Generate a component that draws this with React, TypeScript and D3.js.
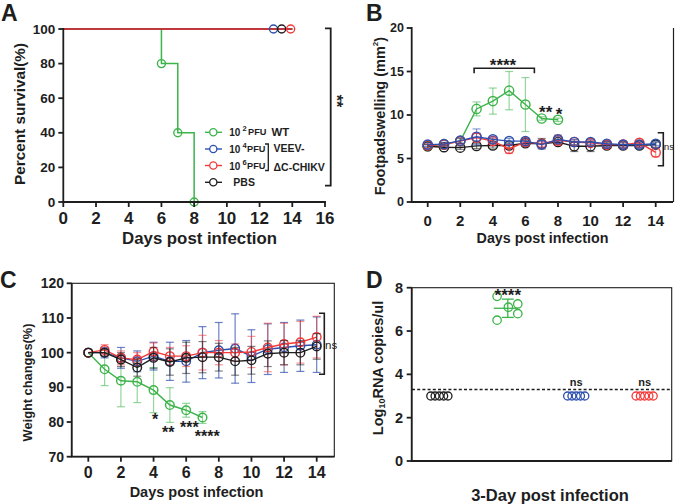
import React from 'react';
import * as d3 from 'd3';

const F = "'Liberation Sans', Arial, Helvetica, sans-serif";
const GREEN = '#3cb44a';
const BLUE = '#2c4fae';
const RED = '#f23a3a';
const BLACK = '#1e1e1e';

// ---------- Panel A: survival ----------
const survGreenDays = [0, 6, 7, 8];
const survGreenVals = [100, 80, 40, 0];
const survFlatDays = [0, 14];
const survFlatVals = [100, 100];
const censorBlueDay = 12.85;
const censorBlackDay = 13.35;
const censorRedDay = 13.9;
const ticksAX = [0, 2, 4, 6, 8, 10, 12, 14, 16];
const ticksAY = [0, 20, 40, 60, 80, 100];

// ---------- Panel B: footpad swelling ----------
const daysB = [0, 1, 2, 3, 4, 5, 6, 7, 8, 9, 10, 11, 12, 13, 14];
const daysBGreen = [0, 1, 2, 3, 4, 5, 6, 7, 8];
const footGreen = [6.4, 6.65, 7.0, 10.7, 11.6, 12.8, 11.2, 9.6, 9.45];
const footGreenErr = [0.2, 0.2, 0.3, 0.8, 1.5, 2.2, 3.1, 0.2, 0.2];
const footBlue = [6.6, 6.65, 7.05, 7.5, 7.2, 7.0, 7.0, 6.6, 7.2, 6.9, 6.9, 6.7, 6.6, 6.6, 6.7];
const footBlueErr = [0.2, 0.2, 0.3, 0.9, 0.3, 0.3, 0.3, 0.4, 0.3, 0.3, 0.3, 0.3, 0.3, 0.3, 0.2];
const footRed = [6.5, 6.6, 7.0, 7.4, 7.0, 6.1, 6.9, 6.7, 7.1, 6.9, 6.8, 6.6, 6.6, 6.8, 5.7];
const footRedErr = [0.2, 0.2, 0.3, 0.5, 0.3, 0.5, 0.3, 0.3, 0.6, 0.3, 0.3, 0.3, 0.3, 0.3, 0.5];
const footBlack = [6.4, 6.3, 6.25, 6.45, 6.5, 6.5, 6.75, 6.7, 6.9, 6.4, 6.4, 6.5, 6.5, 6.5, 6.6];
const footBlackErr = [0.2, 0.2, 0.2, 0.3, 0.3, 0.3, 0.3, 0.6, 0.3, 0.6, 0.6, 0.3, 0.3, 0.3, 0.3];
const ticksBX = [0, 2, 4, 6, 8, 10, 12, 14];
const ticksBY = [0, 5, 10, 15, 20];

// ---------- Panel C: weight ----------
const daysCGreen = [0, 1, 2, 3, 4, 5, 6, 7];
const weightGreen = [100, 95.2, 91.9, 91.6, 89.2, 84.9, 83.4, 81.3];
const weightGreenErr = [0, 4.7, 7.5, 6, 6.5, 5, 2, 1.7];
const weightBlue = [100, 100, 98.5, 97.5, 99, 97.5, 97.5, 100, 100.7, 101.2, 99, 101, 101.5, 102, 102.3];
const weightBlueErr = [0, 1.5, 3, 3, 4, 5.5, 6, 7.5, 8, 10, 7.6, 7.3, 7.2, 7.4, 8];
const weightRed = [100, 100.8, 98.5, 98, 100.3, 99, 99, 100, 100, 100, 100.2, 101.5, 102.5, 103, 104.5];
const weightRedErr = [0, 1.5, 2, 2, 2.5, 2.5, 3, 5, 3.5, 2.5, 4.5, 7, 6, 6, 6];
const weightBlack = [100, 100, 98, 95.7, 98.5, 97.3, 98.5, 98.7, 98.7, 97.5, 97.8, 99.7, 100, 100, 101.8];
const weightBlackErr = [0, 1, 2, 2.5, 3, 3.8, 4.5, 4.5, 4, 4, 4, 3.7, 3.5, 3.5, 3.7];
const ticksCY = [70, 80, 90, 100, 110, 120];

// ---------- Panel D: RNA ----------
const groupsD = ['PBS', 'WT', 'VEEV4', 'VEEV6'];
const rnaPBS = [3, 3, 3, 3, 3];
const rnaWT = [7.6, 7.1, 7.25, 6.8, 6.5];
const rnaV4 = [3, 3, 3, 3, 3];
const rnaV6 = [3, 3, 3, 3, 3];
const detectionLimit = 3.3;
const ticksDY = [0, 2, 4, 6, 8];

const wtJitter = [-10.7, 0.6, 10, 10, -10.7];
const flatJitter = [-8.6, -4.3, 0, 4.3, 8.6];

function Series({ xs, ys, errs, x, y, color, r = 4.3, errOpacity = 0.55 }: any) {
  const line = d3.line<number>().x((_, i) => x(xs[i])).y((v) => y(v));
  return (
    <g>
      {errs && xs.map((d: number, i: number) => errs[i] > 0 ? (
        <g key={'e' + i} stroke={color} strokeOpacity={errOpacity} strokeWidth={1.2}>
          <line x1={x(d)} x2={x(d)} y1={y(ys[i] - errs[i])} y2={y(ys[i] + errs[i])} />
          <line x1={x(d) - 4} x2={x(d) + 4} y1={y(ys[i] + errs[i])} y2={y(ys[i] + errs[i])} />
          <line x1={x(d) - 4} x2={x(d) + 4} y1={y(ys[i] - errs[i])} y2={y(ys[i] - errs[i])} />
        </g>
      ) : null)}
      <path d={line(ys) || ''} fill="none" stroke={color} strokeWidth={1.4} />
      {xs.map((d: number, i: number) => (
        <circle key={i} cx={x(d)} cy={y(ys[i])} r={r} fill="none" stroke={color} strokeWidth={1.4} />
      ))}
    </g>
  );
}

function Stars({ x, y, fs, text }: any) {
  return (
    <text x={x} y={y + 0.57 * fs} fontSize={fs} fontWeight="bold" textAnchor="middle" fontFamily={F} fill={BLACK}>{text}</text>
  );
}

function YLabel({ cx, cy, fs, children }: any) {
  return (
    <text transform={`translate(${cx},${cy}) rotate(-90)`} textAnchor="middle" dominantBaseline="central"
      fontSize={fs} fontWeight="bold" fontFamily={F} fill={BLACK}>{children}</text>
  );
}

export default function App() {
  // Panel A scales
  const xA = d3.scaleLinear().domain([0, 16]).range([63.3, 325]);
  const yA = d3.scaleLinear().domain([0, 100]).range([202, 29]);
  const stepLine = d3.line<number>().curve(d3.curveStepAfter);
  const greenSurv = stepLine(survGreenDays.map((d, i) => [xA(d), yA(survGreenVals[i])]) as any) || '';
  const flatSurv = stepLine(survFlatDays.map((d, i) => [xA(d), yA(survFlatVals[i])]) as any) || '';

  // Panel B scales
  const xB = d3.scaleLinear().domain([0, 14]).range([427.7, 655.7]);
  const yB = d3.scaleLinear().domain([0, 20]).range([202, 28]);

  // Panel C scales
  const xC = d3.scaleLinear().domain([0, 14]).range([88.3, 316.7]);
  const yC = d3.scaleLinear().domain([70, 120]).range([456.7, 283.3]);

  // Panel D scales
  const xD = d3.scalePoint<string>().domain(groupsD).range([412, 672]).padding(0.4);
  const yD = d3.scaleLinear().domain([0, 8]).range([461, 287.7]);
  const wtMean = d3.mean(rnaWT) as number;
  const wtSd = d3.deviation(rnaWT) as number;

  const axisW = 1.8;
  const legendRows = [132.3, 149, 165.5, 182.3];
  const legendColors = [GREEN, BLUE, RED, BLACK];

  return (
    <svg width={675} height={504} style={{ position: 'absolute', left: 0, top: 0, background: '#fff' }} fontFamily={F}>
      <rect width={675} height={504} fill="#fff" />

      {/* ================= Panel A ================= */}
      <text x={1} y={21} fontSize={23} fontWeight="bold" fill={BLACK}>A</text>
      <path d={greenSurv} fill="none" stroke={GREEN} strokeWidth={1.5} />
      <path d={flatSurv} fill="none" stroke={BLUE} strokeWidth={1.5} />
      <path d={flatSurv} fill="none" stroke={BLACK} strokeWidth={1.5} />
      <path d={flatSurv} fill="none" stroke={RED} strokeWidth={1.5} />
      {survGreenDays.slice(1).map((d, i) => (
        <circle key={i} cx={xA(d)} cy={yA(survGreenVals[i + 1])} r={4} fill="none" stroke={GREEN} strokeWidth={1.4} />
      ))}
      <circle cx={xA(censorBlueDay)} cy={yA(100)} r={4} fill="none" stroke={BLUE} strokeWidth={1.4} />
      <circle cx={xA(censorBlackDay)} cy={yA(100)} r={4} fill="none" stroke={BLACK} strokeWidth={1.4} />
      <circle cx={xA(censorRedDay)} cy={yA(100)} r={4} fill="none" stroke={RED} strokeWidth={1.4} />
      {/* axes */}
      <line x1={xA(0)} x2={xA(0)} y1={yA(100) - 1} y2={yA(0)} stroke={BLACK} strokeWidth={axisW} />
      <line x1={xA(0) - 1} x2={xA(16) + 1} y1={yA(0)} y2={yA(0)} stroke={BLACK} strokeWidth={axisW} />
      {ticksAY.map((t) => (
        <g key={t}>
          <line x1={xA(0) - 5} x2={xA(0)} y1={yA(t)} y2={yA(t)} stroke={BLACK} strokeWidth={axisW} />
          <text x={xA(0) - 8} y={yA(t)} dominantBaseline="central" textAnchor="end" fontSize={13.5} fontWeight="bold" fill={BLACK}>{t}</text>
        </g>
      ))}
      {ticksAX.map((t) => (
        <g key={t}>
          <line x1={xA(t)} x2={xA(t)} y1={yA(0)} y2={yA(0) + 5} stroke={BLACK} strokeWidth={axisW} />
          <text x={xA(t)} y={218} dominantBaseline="central" textAnchor="middle" fontSize={17} fontWeight="bold" fill={BLACK}>{t}</text>
        </g>
      ))}
      <text x={199.5} y={238} dominantBaseline="central" textAnchor="middle" fontSize={16.8} fontWeight="bold" fill={BLACK}>Days post infection</text>
      <YLabel cx={19.5} cy={114} fs={15.3}>Percent survival(%)</YLabel>
      {/* significance bracket */}
      <path d={`M325,28.3 H330.7 V185.7 H325`} fill="none" stroke={BLACK} strokeWidth={1.8} />
      <g transform="rotate(90,340,101)">
        <text x={340} y={101 + 0.57 * 16} fontSize={16} fontWeight="bold" textAnchor="middle" fill={BLACK}>**</text>
      </g>
      {/* legend */}
      {legendRows.map((ly, i) => (
        <g key={i}>
          <line x1={205} x2={222} y1={ly} y2={ly} stroke={legendColors[i]} strokeWidth={1.4} />
          <circle cx={213.3} cy={ly} r={3.6} fill="#fff" stroke={legendColors[i]} strokeWidth={1.3} />
        </g>
      ))}
      <text x={229.3} y={legendRows[0]} dominantBaseline="central" fontWeight="bold" fill={BLACK}>
        <tspan fontSize={10}>10</tspan>
        <tspan fontSize={7.5} dx={2} dy={-4}>2</tspan>
        <tspan fontSize={9.2} dx={1.5} dy={4}>PFU</tspan>
        <tspan fontSize={11.4} dx={5}>WT</tspan>
      </text>
      <text x={229.3} y={legendRows[1]} dominantBaseline="central" fontWeight="bold" fill={BLACK}>
        <tspan fontSize={10}>10</tspan>
        <tspan fontSize={7.5} dx={2} dy={-4}>4</tspan>
        <tspan fontSize={9.2} dx={0.5} dy={4}>PFU</tspan>
      </text>
      <text x={229.3} y={legendRows[2]} dominantBaseline="central" fontWeight="bold" fill={BLACK}>
        <tspan fontSize={10}>10</tspan>
        <tspan fontSize={7.5} dx={2} dy={-4}>6</tspan>
        <tspan fontSize={9.2} dx={0.5} dy={4}>PFU</tspan>
      </text>
      <path d="M265,144 H268.3 V170.5 H265" fill="none" stroke={BLACK} strokeWidth={1.3} />
      <text x={273.5} y={legendRows[1] - 1} dominantBaseline="central" fontSize={10.5} fontWeight="bold" fill={BLACK}>VEEV-</text>
      <text x={273.5} y={legendRows[2] + 1} dominantBaseline="central" fontSize={10.5} fontWeight="bold" fill={BLACK}>ΔC-CHIKV</text>
      <text x={233.3} y={legendRows[3]} dominantBaseline="central" fontSize={10.5} fontWeight="bold" fill={BLACK}>PBS</text>

      {/* ================= Panel B ================= */}
      <text x={366} y={21} fontSize={23} fontWeight="bold" fill={BLACK}>B</text>
      <Series xs={daysBGreen} ys={footGreen} errs={footGreenErr} x={xB} y={yB} color={GREEN} r={4.6} />
      <Series xs={daysB} ys={footBlack} errs={footBlackErr} x={xB} y={yB} color={BLACK} r={4.6} />
      <Series xs={daysB} ys={footRed} errs={footRedErr} x={xB} y={yB} color={RED} r={4.6} />
      <Series xs={daysB} ys={footBlue} errs={footBlueErr} x={xB} y={yB} color={BLUE} r={4.6} />
      <line x1={411.7} x2={411.7} y1={yB(20) - 1} y2={yB(0)} stroke={BLACK} strokeWidth={axisW} />
      <line x1={410.8} x2={673} y1={yB(0)} y2={yB(0)} stroke={BLACK} strokeWidth={axisW} />
      <line x1={673.5} x2={673.5} y1={yB(20)} y2={yB(0)} stroke={BLACK} strokeWidth={1.2} />
      {ticksBY.map((t) => (
        <g key={t}>
          <line x1={406.7} x2={411.7} y1={yB(t)} y2={yB(t)} stroke={BLACK} strokeWidth={axisW} />
          <text x={404} y={yB(t)} dominantBaseline="central" textAnchor="end" fontSize={12.5} fontWeight="bold" fill={BLACK}>{t}</text>
        </g>
      ))}
      {ticksBX.map((t) => (
        <g key={t}>
          <line x1={xB(t)} x2={xB(t)} y1={yB(0)} y2={yB(0) + 5} stroke={BLACK} strokeWidth={axisW} />
          <text x={xB(t)} y={220} dominantBaseline="central" textAnchor="middle" fontSize={15} fontWeight="bold" fill={BLACK}>{t}</text>
        </g>
      ))}
      <text x={542.5} y={238} dominantBaseline="central" textAnchor="middle" fontSize={14.3} fontWeight="bold" fill={BLACK}>Days post infection</text>
      <YLabel cx={380} cy={116} fs={14.5}>
        <tspan>Footpadswelling (mm</tspan>
        <tspan fontSize={8} dy={-5}>2</tspan>
        <tspan dy={5}>)</tspan>
      </YLabel>
      <path d={`M${xB(2.85)},73.3 V68.3 H${xB(6.55)} V73.3`} fill="none" stroke={BLACK} strokeWidth={1.6} />
      <Stars x={503} y={61.7} fs={17} text="****" />
      <Stars x={545.7} y={108} fs={17} text="**" />
      <Stars x={559} y={110} fs={17} text="*" />
      <path d="M657.7,132.7 H663.3 V165.7 H657.7" fill="none" stroke={BLACK} strokeWidth={1.6} />
      <text x={663.8} y={146.7} dominantBaseline="central" fontSize={9.8} fill={BLACK}>ns</text>

      {/* ================= Panel C ================= */}
      <text x={0} y={288} fontSize={23} fontWeight="bold" fill={BLACK}>C</text>
      <Series xs={daysCGreen} ys={weightGreen} errs={weightGreenErr} x={xC} y={yC} color={GREEN} r={4.3} />
      <Series xs={daysB} ys={weightBlue} errs={weightBlueErr} x={xC} y={yC} color={BLUE} r={4.3} errOpacity={0.7} />
      <Series xs={daysB} ys={weightRed} errs={weightRedErr} x={xC} y={yC} color={RED} r={4.3} />
      <Series xs={daysB} ys={weightBlack} errs={weightBlackErr} x={xC} y={yC} color={BLACK} r={4.3} />
      <rect x={71.7} y={283.3} width={334.3 - 71.7} height={456.7 - 283.3} fill="none" stroke={BLACK} strokeWidth={1.1} />
      <line x1={71.7} x2={71.7} y1={283.3} y2={456.7} stroke={BLACK} strokeWidth={axisW} />
      <line x1={70.8} x2={334.3} y1={456.7} y2={456.7} stroke={BLACK} strokeWidth={axisW} />
      {ticksCY.map((t) => (
        <g key={t}>
          <line x1={66.7} x2={71.7} y1={yC(t)} y2={yC(t)} stroke={BLACK} strokeWidth={axisW} />
          <text x={64} y={yC(t)} dominantBaseline="central" textAnchor="end" fontSize={14} fontWeight="bold" fill={BLACK}>{t}</text>
        </g>
      ))}
      {ticksBX.map((t) => (
        <g key={t}>
          <line x1={xC(t)} x2={xC(t)} y1={456.7} y2={461.7} stroke={BLACK} strokeWidth={axisW} />
          <text x={xC(t)} y={472.7} dominantBaseline="central" textAnchor="middle" fontSize={16} fontWeight="bold" fill={BLACK}>{t}</text>
        </g>
      ))}
      <text x={196.5} y={491.7} dominantBaseline="central" textAnchor="middle" fontSize={14.5} fontWeight="bold" fill={BLACK}>Days post infection</text>
      <YLabel cx={27.5} cy={382.5} fs={12.8}>Weight changes(%)</YLabel>
      <Stars x={155} y={416} fs={16} text="*" />
      <Stars x={168.3} y={429.3} fs={16} text="**" />
      <Stars x={189.3} y={424} fs={16} text="***" />
      <Stars x={207.3} y={432.7} fs={16} text="****" />
      <path d="M319,313.3 H324.3 V374.3 H319" fill="none" stroke={BLACK} strokeWidth={1.6} />
      <text x={325} y={345} dominantBaseline="central" fontSize={11.5} fill={BLACK}>ns</text>

      {/* ================= Panel D ================= */}
      <text x={366} y={288} fontSize={23} fontWeight="bold" fill={BLACK}>D</text>
      <rect x={411.7} y={287.7} width={671.7 - 411.7} height={461 - 287.7} fill="none" stroke={BLACK} strokeWidth={1.1} />
      <line x1={411.7} x2={411.7} y1={287.7} y2={461} stroke={BLACK} strokeWidth={axisW} />
      <line x1={410.8} x2={671.7} y1={461} y2={461} stroke={BLACK} strokeWidth={axisW} />
      {ticksDY.map((t) => (
        <g key={t}>
          <line x1={406.7} x2={411.7} y1={yD(t)} y2={yD(t)} stroke={BLACK} strokeWidth={axisW} />
          <text x={403} y={yD(t)} dominantBaseline="central" textAnchor="end" fontSize={14.5} fontWeight="bold" fill={BLACK}>{t}</text>
        </g>
      ))}
      <line x1={412} x2={671} y1={yD(detectionLimit)} y2={yD(detectionLimit)} stroke={BLACK} strokeWidth={1.3} strokeDasharray="3,2.2" />
      {[
        { g: 'PBS', vals: rnaPBS, c: BLACK },
        { g: 'VEEV4', vals: rnaV4, c: BLUE },
        { g: 'VEEV6', vals: rnaV6, c: RED },
      ].map((s) => (
        <g key={s.g}>
          {s.vals.map((v, i) => (
            <circle key={i} cx={(xD(s.g) as number) + flatJitter[i]} cy={yD(v)} r={4} fill="none" stroke={s.c} strokeWidth={1.3} />
          ))}
        </g>
      ))}
      <g stroke={GREEN} strokeWidth={1.3} fill="none">
        <line x1={(xD('WT') as number) - 14} x2={(xD('WT') as number) + 10} y1={yD(wtMean)} y2={yD(wtMean)} />
        <line x1={(xD('WT') as number)} x2={(xD('WT') as number)} y1={yD(wtMean + wtSd)} y2={yD(wtMean - wtSd)} />
        <line x1={(xD('WT') as number) - 6} x2={(xD('WT') as number) + 6} y1={yD(wtMean + wtSd)} y2={yD(wtMean + wtSd)} />
        <line x1={(xD('WT') as number) - 6} x2={(xD('WT') as number) + 6} y1={yD(wtMean - wtSd)} y2={yD(wtMean - wtSd)} />
        {rnaWT.map((v, i) => (
          <circle key={i} cx={(xD('WT') as number) + wtJitter[i]} cy={yD(v)} r={4.2} />
        ))}
      </g>
      <Stars x={xD('WT') as number} y={291.7} fs={17} text="****" />
      <text x={xD('VEEV4') as number} y={381.7} dominantBaseline="central" textAnchor="middle" fontSize={11} fontWeight="bold" fill={BLACK}>ns</text>
      <text x={xD('VEEV6') as number} y={381.7} dominantBaseline="central" textAnchor="middle" fontSize={11} fontWeight="bold" fill={BLACK}>ns</text>
      <text x={550} y={495} dominantBaseline="central" textAnchor="middle" fontSize={16.5} fontWeight="bold" fill={BLACK}>3-Day post infection</text>
      <YLabel cx={378} cy={368} fs={14.5}>
        <tspan>Log</tspan>
        <tspan fontSize={9} dy={4}>10</tspan>
        <tspan dy={-4}>RNA copies/ul</tspan>
      </YLabel>
    </svg>
  );
}
